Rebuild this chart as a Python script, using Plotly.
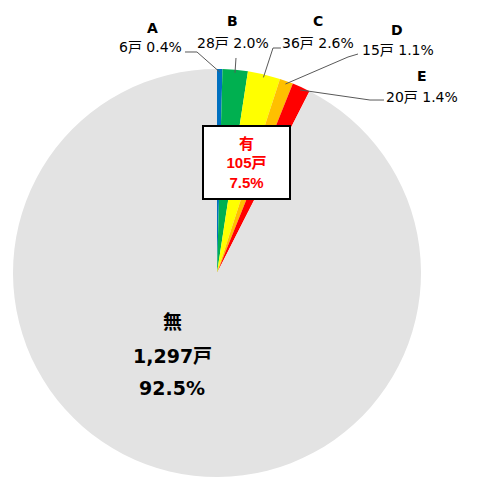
import math
import plotly.graph_objects as go

# data
labels = ["A", "B", "C", "D", "E", "無"]
counts = [6, 28, 36, 15, 20, 1297]
pcts = ["0.4%", "2.0%", "2.6%", "1.1%", "1.4%", "92.5%"]
colors = ["#0070C0", "#00B050", "#FFFF00", "#FFC000", "#FF0000", "#E3E3E3"]
yes_total = 105
yes_pct = "7.5%"

# page body keeps its 8px margin, so the figure is drawn 8px in
OFF = 8
W, H = 482 - OFF, 477 - OFF
cx, cy, R = 217, 273, 204
FONT = "DejaVu Sans, Noto Sans CJK JP, sans-serif"


def px(x, y):
    # screen pixel -> paper coords
    return (x - OFF) / W, 1 - (y - OFF) / H


fig = go.Figure(
    go.Pie(
        labels=labels,
        values=counts,
        sort=False,
        direction="clockwise",
        rotation=0,
        marker=dict(colors=colors, line=dict(width=0)),
        textinfo="none",
        hoverinfo="label+value+percent",
        domain=dict(x=[(cx - R - OFF) / W, (cx + R - OFF) / W],
                    y=[max(0, (H - (cy - OFF) - R) / H), min(1, (H - (cy - OFF) + R) / H)]),
        showlegend=False,
    )
)

# label placement for the small slices (screen pixels): name, value text, leader knee points
label_pos = [
    dict(name=(152, 28), val=(150, 47), path=[(185, 52), (197, 52)]),
    dict(name=(232, 21), val=(233, 43), path=[(236, 58)]),
    dict(name=(318, 21), val=(318, 43), path=[(281, 48), (273, 48)]),
    dict(name=(397, 30), val=(398, 50), path=[(358, 54), (348, 57)]),
    dict(name=(422, 76), val=(422, 97), path=[(384, 100), (370, 100)]),
]

annotations = []
shapes = []
total = sum(counts)
cum = 0
for i, pos in enumerate(label_pos):
    mid = (cum + counts[i] / 2) / total * 2 * math.pi
    cum += counts[i]
    ax = cx + (R - 3) * math.sin(mid)
    ay = cy - (R - 3) * math.cos(mid)
    nx, ny = px(*pos["name"])
    vx, vy = px(*pos["val"])
    annotations.append(dict(x=nx, y=ny, xref="paper", yref="paper", text="<b>%s</b>" % labels[i],
                            showarrow=False, xanchor="center", yanchor="middle",
                            font=dict(size=14, color="black", family=FONT)))
    annotations.append(dict(x=vx, y=vy, xref="paper", yref="paper",
                            text="%d戸 %s" % (counts[i], pcts[i]),
                            showarrow=False, xanchor="center", yanchor="middle",
                            font=dict(size=14, color="black", family=FONT)))
    pts = pos["path"] + [(ax, ay)]
    d = "M " + " L ".join("%.4f,%.4f" % px(x, y) for x, y in pts)
    shapes.append(dict(type="path", path=d, xref="paper", yref="paper",
                       line=dict(color="#595959", width=1)))

# 有 box
bx, by = px(246, 162)
annotations.append(dict(x=bx, y=by, xref="paper", yref="paper",
                        text="<b>有<br>%d戸<br>%s</b>" % (yes_total, yes_pct),
                        showarrow=False, align="center", width=83, height=69,
                        xanchor="center", yanchor="middle",
                        bgcolor="white", bordercolor="black", borderwidth=2,
                        font=dict(size=15, color="#FF0000",
                                  family="Liberation Sans, Arial, Noto Sans CJK JP, sans-serif")))

# 無 label
for txt, y in [(labels[5], 322), ("{:,}戸".format(counts[5]), 356), (pcts[5], 388)]:
    tx, ty = px(172, y)
    annotations.append(dict(x=tx, y=ty, xref="paper", yref="paper", text="<b>%s</b>" % txt,
                            showarrow=False, xanchor="center", yanchor="middle",
                            font=dict(size=19, color="black", family=FONT)))

fig.update_layout(
    width=W,
    height=H,
    margin=dict(l=0, r=0, t=0, b=0),
    paper_bgcolor="white",
    plot_bgcolor="white",
    annotations=annotations,
    shapes=shapes,
)

fig.write_html("out.html")
